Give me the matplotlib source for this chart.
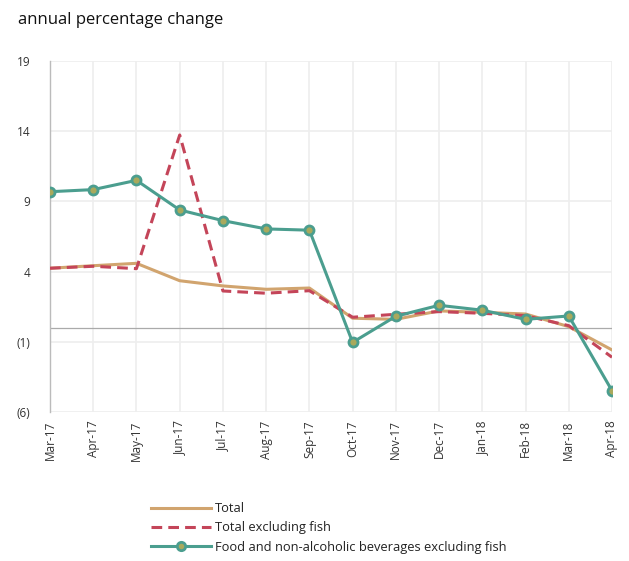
import matplotlib
matplotlib.use("Agg")
import matplotlib.pyplot as plt
from matplotlib.ticker import FuncFormatter
from matplotlib.lines import Line2D

months = ["Mar-17", "Apr-17", "May-17", "Jun-17", "Jul-17", "Aug-17", "Sep-17",
          "Oct-17", "Nov-17", "Dec-17", "Jan-18", "Feb-18", "Mar-18", "Apr-18"]
total = [4.24, 4.42, 4.59, 3.35, 2.98, 2.74, 2.83, 0.68, 0.6, 1.2, 1.1, 0.98, 0.08, -1.58]
total_ex_fish = [4.24, 4.38, 4.21, 13.73, 2.62, 2.46, 2.64, 0.75, 0.96, 1.15, 1.03, 0.86, 0.15, -2.1]
food_ex_fish = [9.69, 9.84, 10.5, 8.39, 7.63, 7.04, 6.95, -1.04, 0.82, 1.6, 1.25, 0.6, 0.84, -4.48]
yticks = [19, 14, 9, 4, -1, -6]

plt.rcParams['font.family'] = ['Open Sans', 'DejaVu Sans']

fig = plt.figure(figsize=(6.29, 5.61), dpi=100)
ax = fig.add_axes([50/629, 1-412/561, 562/629, 351/561])

x = list(range(len(months)))
c_tan = "#D1A46E"
c_red = "#C44559"
c_green = "#4B9E8F"
c_face = "#A9A95C"

ax.plot(x, total, color=c_tan, lw=2.2, zorder=3)
ax.plot(x, total_ex_fish, color=c_red, lw=2.2, ls=(0, (3.5, 2)), zorder=4)
ax.plot(x, food_ex_fish, color=c_green, lw=2.2, marker='o', ms=6.5,
        markerfacecolor=c_face, markeredgecolor=c_green, markeredgewidth=2, zorder=5)

ax.axhline(0, color="#aaaaaa", lw=0.9, zorder=2)

ax.set_xlim(0, len(months)-1)
ax.set_ylim(-6, 19)
ax.set_yticks(yticks)
ax.yaxis.set_major_formatter(FuncFormatter(lambda v, p: f"({abs(int(v))})" if v < 0 else f"{int(v)}"))
ax.set_xticks(x)
ax.set_xticklabels(months, rotation=90)
ax.grid(True, color="#eeeeee", lw=1.2, zorder=0)
ax.set_axisbelow(True)
for s in ["top", "right", "bottom"]:
    ax.spines[s].set_visible(False)
ax.spines["left"].set_color("#bbbbbb")
ax.spines["left"].set_linewidth(1)
ax.tick_params(axis='both', length=0, labelsize=8.5, colors="#333333")
ax.tick_params(axis='y', pad=14)
ax.tick_params(axis='x', pad=6)

fig.text(18/629, 1-20/561, "annual percentage change", fontsize=12, va='center', ha='left', color="#111111")

handles = [
    Line2D([], [], color=c_tan, lw=2.2),
    Line2D([], [], color=c_red, lw=2.2, ls=(0, (3.5, 2))),
    Line2D([], [], color=c_green, lw=2.2, marker='o', ms=6, markerfacecolor=c_face,
           markeredgecolor=c_green, markeredgewidth=2),
]
labels = ["Total", "Total excluding fish", "Food and non-alcoholic beverages excluding fish"]
fig.legend(handles, labels, loc='center', bbox_to_anchor=(329/629, 1-528/561), frameon=False,
           fontsize=9.3, handlelength=4.6, handletextpad=0.35, labelspacing=0.5, markerscale=1,
           labelcolor="#222222")

fig.savefig("out.png", dpi=100)
